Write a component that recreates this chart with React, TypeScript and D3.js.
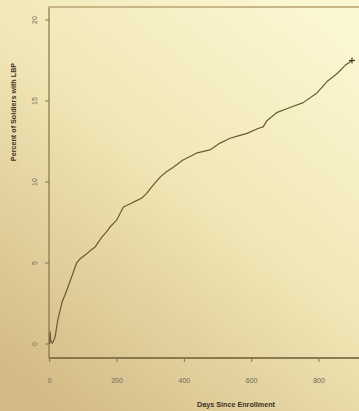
import React from "react";
import * as d3 from "d3";

const days = [0, 1, 3, 8, 16, 24, 36, 51, 65, 80, 90, 105, 120, 135, 155, 168, 179, 199, 219, 244, 258, 273, 288, 303, 328, 345, 366, 396, 420, 438, 476, 506, 536, 560, 586, 619, 634, 646, 676, 714, 753, 794, 824, 854, 878, 898];
const percent = [0, 0.75, 0.2, 0.05, 0.43, 1.48, 2.53, 3.33, 4.14, 5.0, 5.25, 5.49, 5.75, 5.99, 6.6, 6.9, 7.22, 7.65, 8.46, 8.7, 8.85, 9.0, 9.3, 9.7, 10.3, 10.6, 10.9, 11.36, 11.6, 11.8, 11.98, 12.4, 12.7, 12.85, 13.0, 13.3, 13.4, 13.8, 14.3, 14.6, 14.9, 15.5, 16.2, 16.7, 17.2, 17.5];
const xTicks = [0, 200, 400, 600, 800];
const yTicks = [0, 5, 10, 15, 20];
const xTitle = "Days Since Enrollment";
const yTitle = "Percent of Soldiers with LBP";

export default function App() {
  const W = 359, H = 411;
  const left = 49, top = 7, bottom = 358, right = 359;
  const x = d3.scaleLinear().domain([0, 800]).range([49.7, 319]);
  const y = d3.scaleLinear().domain([0, 20]).range([344, 20]);
  const pts: [number, number][] = days.map((d, i) => [d, percent[i]]);
  const line = d3.line<[number, number]>().x(d => x(d[0])).y(d => y(d[1])).curve(d3.curveLinear);
  const last = pts[pts.length - 1];
  const axisCol = "#85744a";
  const tickTxt = "#6f6a52";
  return (
    <svg width={W} height={H} style={{ position: "absolute", left: 0, top: 0 }} fontFamily="'Liberation Sans', Arial, sans-serif">
      <defs>
        <linearGradient id="bg" x1="0.85" y1="0" x2="0.15" y2="1">
          <stop offset="0" stopColor="#fbf7d2" />
          <stop offset="0.45" stopColor="#f1e7b6" />
          <stop offset="1" stopColor="#d3ba86" />
        </linearGradient>
      </defs>
      <rect x={0} y={0} width={W} height={H} fill="url(#bg)" />
      <path d={`M${right + 2},${top}H${left}V${bottom}H${right + 2}`} fill="none" stroke={axisCol} strokeWidth={1.2} />
      <line x1={left} x2={right} y1={top} y2={top} stroke="#cbb887" strokeWidth={1.5} />
      <line x1={left} x2={right} y1={bottom} y2={bottom} stroke="#7d6b42" strokeWidth={1.6} />
      {yTicks.map(t => (
        <g key={t}>
          <line x1={left - 4} x2={left} y1={y(t)} y2={y(t)} stroke={axisCol} strokeWidth={1} />
          <text transform={`translate(${37},${y(t)}) rotate(-90)`} textAnchor="middle" fontSize={7} fill={tickTxt}>{t}</text>
        </g>
      ))}
      {xTicks.map(t => (
        <g key={t}>
          <line x1={x(t)} x2={x(t)} y1={bottom} y2={bottom + 4} stroke={axisCol} strokeWidth={1} />
          <text x={x(t)} y={383} textAnchor="middle" fontSize={7} fill={tickTxt}>{t}</text>
        </g>
      ))}
      <text x={236} y={407} textAnchor="middle" fontSize={7.2} fontWeight="bold" fill="#3a3322">{xTitle}</text>
      <text transform={`translate(16,112) rotate(-90)`} textAnchor="middle" fontSize={7.2} fontWeight="bold" fill="#3a3322">{yTitle}</text>
      <path d={line(pts) || ""} fill="none" stroke="#6b5a30" strokeWidth={1.2} strokeLinejoin="round" />
      <g transform={`translate(${x(last[0])},${y(last[1])})`} stroke="#4d4128" strokeWidth={1.2}>
        <line x1={-3} x2={3} y1={0} y2={0} />
        <line x1={0} x2={0} y1={-3} y2={3} />
      </g>
    </svg>
  );
}
